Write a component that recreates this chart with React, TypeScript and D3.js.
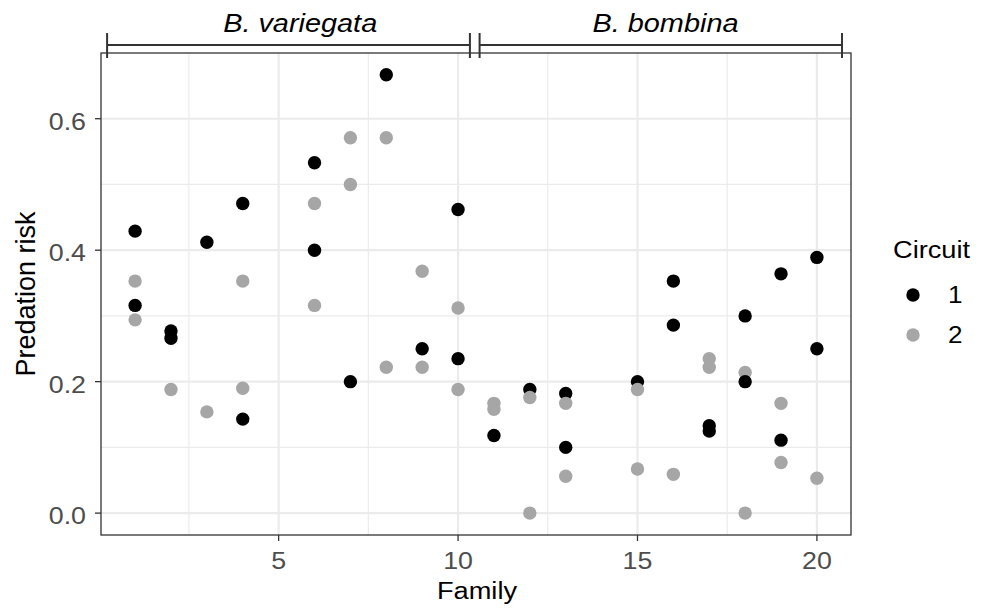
import React from "react";
import * as d3 from "d3";

const families = [1,1,1,1, 2,2,2, 3,3, 4,4,4,4, 6,6,6,6, 7,7,7, 8,8,8, 9,9,9, 10,10,10,10,
  11,11,11, 12,12,12, 13,13,13,13, 15,15,15, 16,16,16, 17,17,17,17, 18,18,18,18, 19,19,19,19, 20,20,20];
const circuits = [1,2,1,2, 1,1,2, 1,2, 1,2,2,1, 1,2,1,2, 2,2,1, 1,2,2, 2,1,2, 1,2,1,2,
  2,2,1, 1,2,2, 1,2,1,2, 1,2,2, 1,1,2, 2,2,1,1, 1,2,1,2, 1,2,1,2, 1,1,2];
const risks = [0.429,0.353,0.316,0.294, 0.277,0.266,0.188, 0.412,0.154, 0.471,0.353,0.19,0.143,
  0.533,0.471,0.4,0.316, 0.571,0.5,0.2, 0.667,0.571,0.222, 0.368,0.25,0.222, 0.462,0.312,0.235,0.188,
  0.167,0.158,0.118, 0.188,0.176,0, 0.182,0.167,0.1,0.056, 0.2,0.188,0.067, 0.353,0.286,0.059,
  0.235,0.222,0.133,0.125, 0.3,0.214,0.2,0, 0.364,0.167,0.111,0.077, 0.389,0.25,0.053];

const groupLabels = ["B. variegata", "B. bombina"];
const groupStart = [0.22, 10.6];
const groupEnd = [10.33, 20.7];
const groupLabelPos = [5.6, 15.78];
const xTicks = [5, 10, 15, 20];
const xMinor = [2.5, 7.5, 12.5, 17.5];
const yTicks = [0, 0.2, 0.4, 0.6];
const yMinor = [0.1, 0.3, 0.5];
const circuitLevels = ["1", "2"];
const circuitColors = ["#000000", "#a6a6a6"];

const W = 987, H = 609;
const M = { left: 101, right: 851, top: 53, bottom: 535 };
const FONT = "'Liberation Sans', Arial, Helvetica, sans-serif";

function SText({ x, y, sx, size, children, anchor = "start", fill = "#000", italic = false, dy }: any) {
  return (
    <text transform={`translate(${x},${y}) scale(${sx},1)`} x={0} y={0} dy={dy} textAnchor={anchor}
      fontSize={size} fill={fill} fontStyle={italic ? "italic" : "normal"}>{children}</text>
  );
}

export default function App() {
  const x = d3.scaleLinear().domain([0.05, 20.95]).range([M.left, M.right]);
  const y = d3.scaleLinear().domain([-0.0333, 0.7]).range([M.bottom, M.top]);
  const color = d3.scaleOrdinal<string, string>().domain(circuitLevels).range(circuitColors);
  const pts = families.map((f, i) => ({ f, c: String(circuits[i]), r: risks[i] }));
  const bracketY = 45;
  return (
    <svg width={W} height={H} style={{ position: "absolute", left: 0, top: 0, background: "#fff" }} fontFamily={FONT}>
      <rect x={0} y={0} width={W} height={H} fill="#fff" />
      {xMinor.map((v) => (
        <line key={"xm" + v} x1={x(v)} x2={x(v)} y1={M.top} y2={M.bottom} stroke="#ebebeb" strokeWidth={1.2} />
      ))}
      {yMinor.map((v) => (
        <line key={"ym" + v} x1={M.left} x2={M.right} y1={y(v)} y2={y(v)} stroke="#ebebeb" strokeWidth={1.2} />
      ))}
      {xTicks.map((v) => (
        <line key={"xg" + v} x1={x(v)} x2={x(v)} y1={M.top} y2={M.bottom} stroke="#ebebeb" strokeWidth={2.2} />
      ))}
      {yTicks.map((v) => (
        <line key={"yg" + v} x1={M.left} x2={M.right} y1={y(v)} y2={y(v)} stroke="#ebebeb" strokeWidth={2.2} />
      ))}
      {pts.map((p, i) => (
        <circle key={i} cx={x(p.f)} cy={y(p.r)} r={6.7} fill={color(p.c)} />
      ))}
      <rect x={M.left} y={M.top} width={M.right - M.left} height={M.bottom - M.top} fill="none" stroke="#333" strokeWidth={1.3} />
      {xTicks.map((v) => (
        <g key={"xt" + v}>
          <line x1={x(v)} x2={x(v)} y1={M.bottom} y2={M.bottom + 6} stroke="#333" strokeWidth={1.3} />
          <SText x={x(v)} y={569} sx={1.14} size={23.5} anchor="middle" fill="#4d4d4d">{v}</SText>
        </g>
      ))}
      {yTicks.map((v) => (
        <g key={"yt" + v}>
          <line x1={M.left - 6} x2={M.left} y1={y(v)} y2={y(v)} stroke="#333" strokeWidth={1.3} />
          <SText x={86} y={y(v) + 11} sx={1.14} size={23.5} anchor="end" fill="#4d4d4d">{v.toFixed(1)}</SText>
        </g>
      ))}
      <SText x={477} y={599} sx={1.11} size={24.5} anchor="middle">Family</SText>
      <text transform={`translate(35,294) rotate(-90)`} textAnchor="middle" fontSize={27} fill="#000">Predation risk</text>
      {groupLabels.map((g, i) => (
        <g key={g}>
          <line x1={x(groupStart[i])} x2={x(groupEnd[i])} y1={bracketY} y2={bracketY} stroke="#333" strokeWidth={2} />
          <line x1={x(groupStart[i])} x2={x(groupStart[i])} y1={33} y2={58} stroke="#333" strokeWidth={2} />
          <line x1={x(groupEnd[i])} x2={x(groupEnd[i])} y1={33} y2={58} stroke="#333" strokeWidth={2} />
          <SText x={x(groupLabelPos[i])} y={32} sx={1.09} size={26.5} anchor="middle" italic>{g}</SText>
        </g>
      ))}
      <SText x={893} y={258} sx={1.11} size={24.5}>Circuit</SText>
      {circuitLevels.map((c, i) => (
        <g key={c}>
          <circle cx={913} cy={295 + i * 40} r={6.7} fill={color(c)} />
          <SText x={948} y={303 + i * 40} sx={1.11} size={23.5}>{c}</SText>
        </g>
      ))}
    </svg>
  );
}
